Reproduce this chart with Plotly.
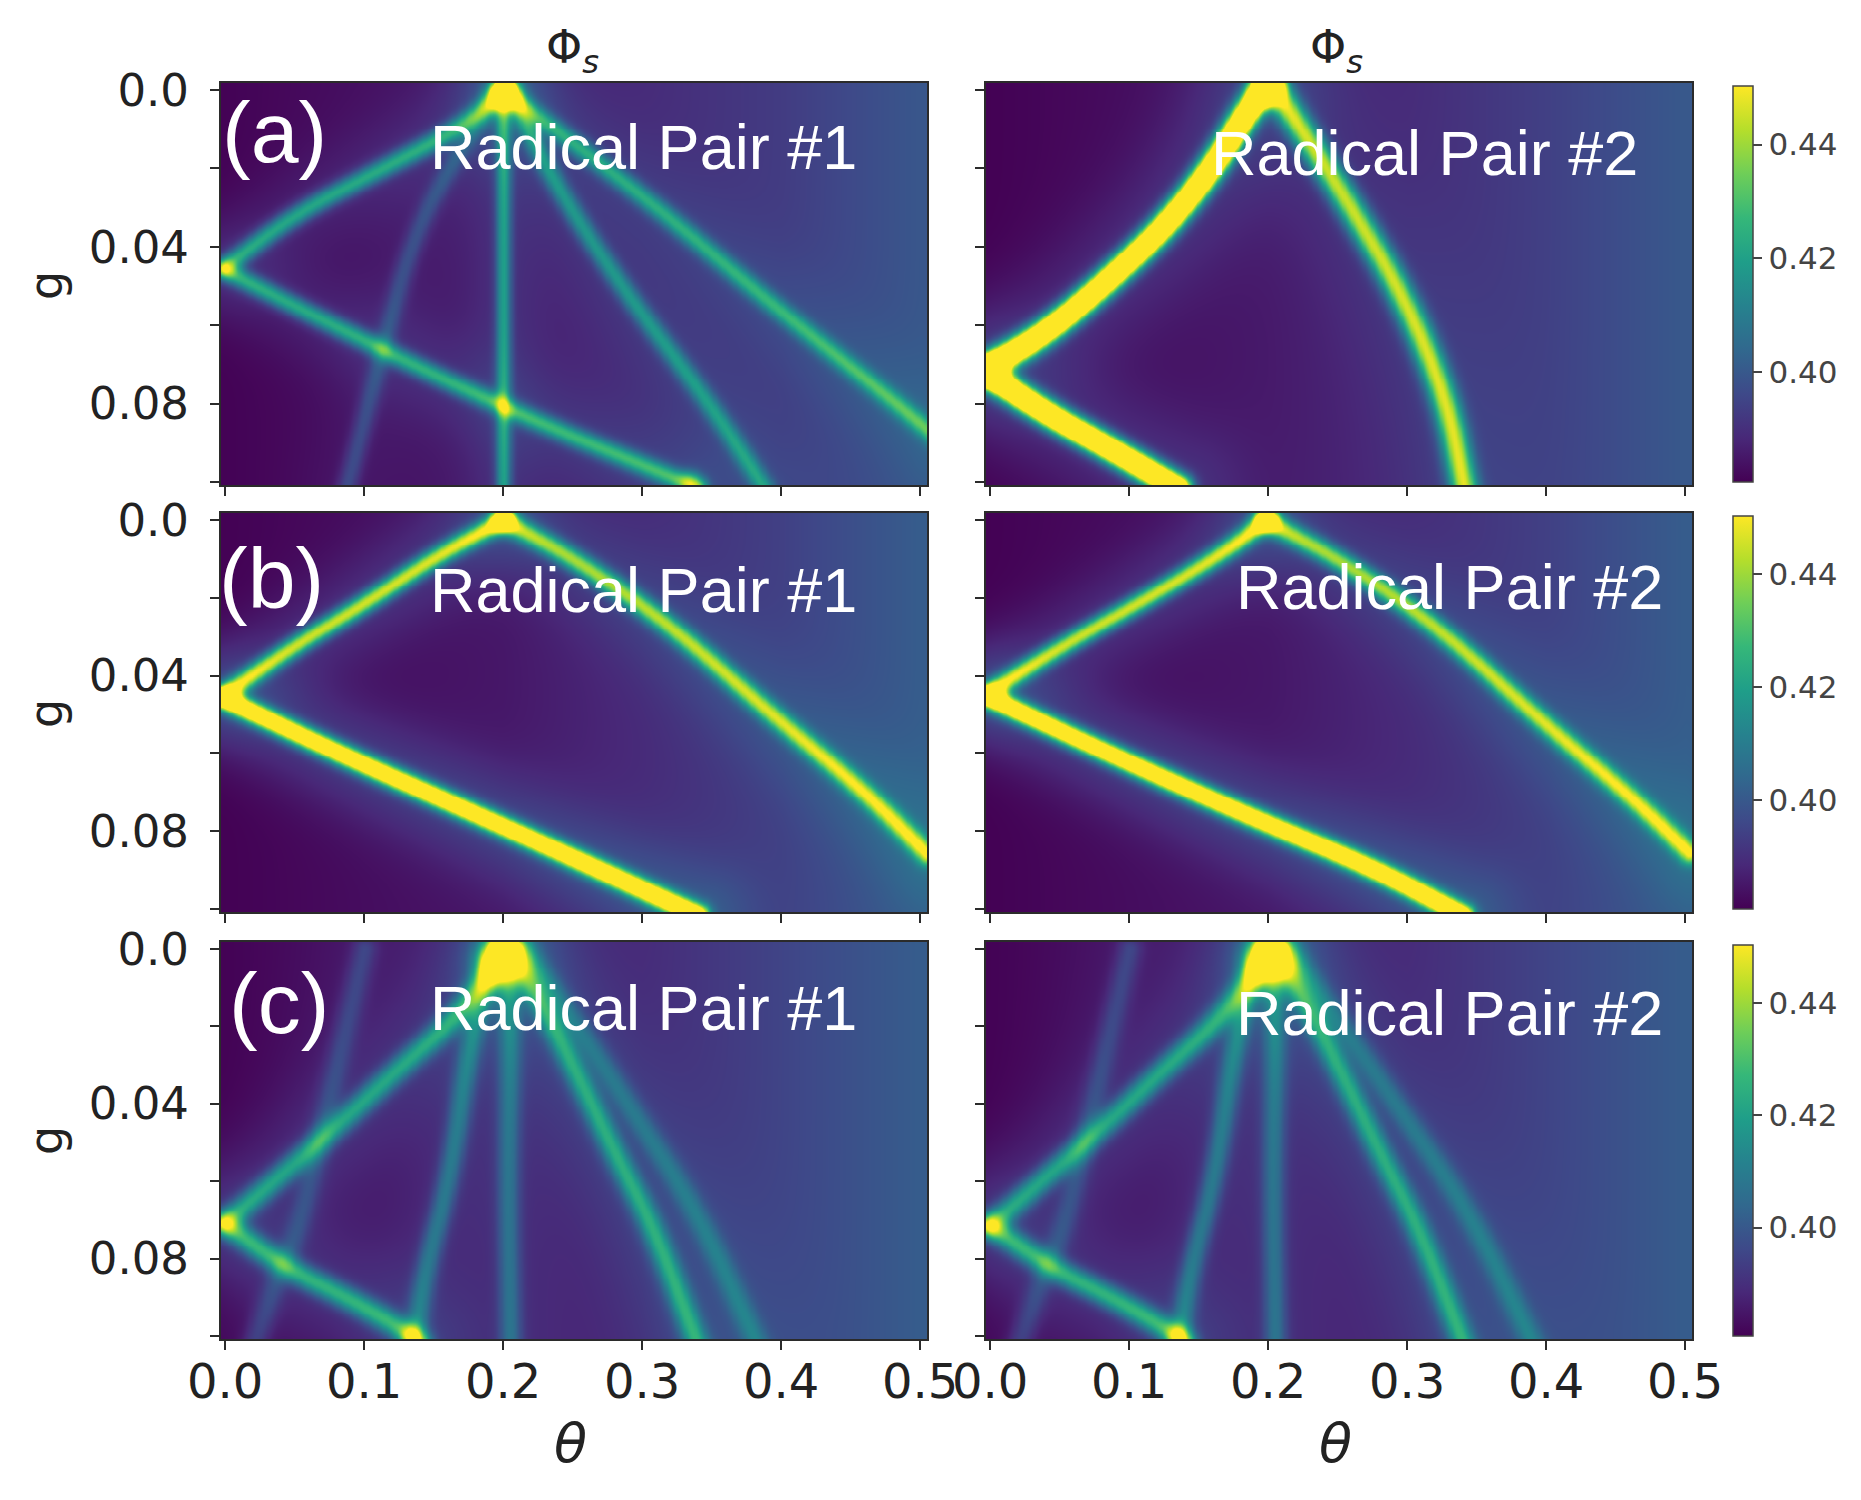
import numpy as np
import plotly.graph_objects as go

# axis ticks / colour range
THETA_TICKS = [0.0, 0.1, 0.2, 0.3, 0.4, 0.5]
THETA_TICK_TEXT = ["0.0", "0.1", "0.2", "0.3", "0.4", "0.5"]
G_TICKS = [0.0, 0.04, 0.08]
G_TICK_TEXT = ["0.0", "0.04", "0.08"]
G_MINOR_TICKS = [0.02, 0.06, 0.10]
CBAR_TICKS = [0.40, 0.42, 0.44]
CBAR_TICK_TEXT = ["0.40", "0.42", "0.44"]
PHI_MIN, PHI_MAX = 0.3807, 0.4503

ROW_LABELS = ["(a)", "(b)", "(c)"]
PAIR_LABELS = ["Radical Pair #1", "Radical Pair #2"]

# background Phi_S read along theta (at 0, 0.1, ... 0.5)
BG_THETA = [0.0, 0.1, 0.2, 0.3, 0.4, 0.5]
bg_a1 = [0.3810, 0.3835, 0.3860, 0.3890, 0.3930, 0.3995]
bg_a2 = [0.3808, 0.3830, 0.3855, 0.3890, 0.3940, 0.4000]
bg_b1 = [0.3808, 0.3830, 0.3850, 0.3890, 0.3940, 0.4010]
bg_b2 = [0.3808, 0.3830, 0.3850, 0.3890, 0.3940, 0.4010]
bg_c1 = [0.3810, 0.3840, 0.3860, 0.3890, 0.3950, 0.4010]
bg_c2 = [0.3810, 0.3840, 0.3860, 0.3890, 0.3950, 0.4010]

# resonance ridges: (theta points, g points, peak height over background, width px)
ridges_a1 = [
    ([0.0, 0.049, 0.113, 0.169, 0.2], [0.045, 0.0318, 0.0199, 0.0096, 0.0], 0.035, 7.0),
    ([0.2, 0.306, 0.391, 0.476, 0.51], [0.0, 0.0284, 0.054, 0.078, 0.088], 0.031, 7.0),
    ([0.0, 0.092, 0.2, 0.34], [0.046, 0.0626, 0.081, 0.1015], 0.036, 7.0),
    ([0.2, 0.2], [0.0, 0.102], 0.030, 5.5),
    ([0.2, 0.169, 0.135, 0.113, 0.0876], [0.0, 0.0147, 0.037, 0.066, 0.101], 0.012, 7.0),
    ([0.205, 0.233, 0.284, 0.348, 0.387], [0.0, 0.0216, 0.0498, 0.0797, 0.101], 0.026, 7.0),
]
spots_a1 = [(0.2, 0.001, 0.05, 10.0), (0.335, 0.1, 0.02, 8.0)]

ridges_a2 = [
    ([0.0, 0.041, 0.084, 0.127, 0.161, 0.187, 0.2],
     [0.0702, 0.0616, 0.0487, 0.0342, 0.019, 0.004, -0.002], 0.11, 9.0),
    ([0.0, 0.041, 0.084, 0.135], [0.073, 0.0826, 0.091, 0.1015], 0.11, 9.0),
    ([0.2, 0.213, 0.255, 0.298, 0.328, 0.341],
     [-0.002, 0.004, 0.0273, 0.053, 0.0788, 0.1015], 0.054, 9.5),
]
spots_a2 = [(0.2, 0.0, 0.05, 9.0), (0.0, 0.0715, 0.04, 10.0)]

ridges_b1 = [
    ([0.0, 0.048, 0.1, 0.151, 0.2], [0.0446, 0.0326, 0.0215, 0.0094, 0.0], 0.056, 7.0),
    ([0.2, 0.253, 0.322, 0.39, 0.459, 0.505],
     [0.0, 0.0103, 0.0275, 0.049, 0.0695, 0.0858], 0.048, 7.5),
    ([0.0, 0.082, 0.185, 0.27, 0.34], [0.046, 0.060, 0.0763, 0.090, 0.1015], 0.085, 7.5),
]
spots_b1 = [(0.2, 0.0, 0.03, 8.0)]

ridges_b2 = [
    ([0.0, 0.053, 0.121, 0.172, 0.198], [0.044, 0.032, 0.0184, 0.0073, 0.0], 0.056, 7.0),
    ([0.198, 0.258, 0.326, 0.394, 0.462, 0.503],
     [0.0, 0.0115, 0.0286, 0.0509, 0.0714, 0.0855], 0.048, 7.5),
    ([0.0, 0.087, 0.189, 0.275, 0.34], [0.0457, 0.0603, 0.0765, 0.0893, 0.1015], 0.085, 7.5),
]
spots_b2 = [(0.2, 0.0, 0.03, 8.0)]

ridges_c1 = [
    ([0.0, 0.042, 0.085, 0.124, 0.162, 0.186, 0.2],
     [0.0706, 0.0577, 0.0441, 0.031, 0.019, 0.008, 0.0], 0.032, 8.5),
    ([0.0, 0.042, 0.09, 0.131, 0.14], [0.071, 0.082, 0.0905, 0.099, 0.102], 0.036, 8.5),
    ([0.195, 0.176, 0.162, 0.143, 0.136], [0.0, 0.023, 0.058, 0.084, 0.1015], 0.020, 8.0),
    ([0.203, 0.205, 0.203, 0.205], [0.0, 0.023, 0.06, 0.1015], 0.018, 8.0),
    ([0.205, 0.229, 0.258, 0.282, 0.308, 0.339],
     [0.0, 0.015, 0.036, 0.054, 0.072, 0.1015], 0.030, 8.5),
    ([0.215, 0.25, 0.286, 0.34, 0.382], [0.0, 0.018, 0.038, 0.068, 0.1015], 0.015, 8.5),
    ([0.1, 0.073, 0.054, 0.04, 0.021], [0.0, 0.041, 0.071, 0.082, 0.1015], 0.010, 8.5),
]
spots_c1 = [(0.198, 0.003, 0.07, 15.0), (0.134, 0.1, 0.02, 8.0)]

ridges_c2 = [
    ([0.0, 0.042, 0.085, 0.124, 0.162, 0.186, 0.2],
     [0.0714, 0.0582, 0.0446, 0.0312, 0.019, 0.008, 0.0], 0.032, 8.5),
    ([0.0, 0.042, 0.09, 0.131, 0.14], [0.0714, 0.082, 0.0905, 0.099, 0.102], 0.036, 8.5),
    ([0.195, 0.176, 0.162, 0.143, 0.136], [0.0, 0.023, 0.058, 0.084, 0.1015], 0.020, 8.0),
    ([0.203, 0.205, 0.203, 0.205], [0.0, 0.023, 0.06, 0.1015], 0.018, 8.0),
    ([0.205, 0.229, 0.258, 0.282, 0.308, 0.340],
     [0.0, 0.015, 0.036, 0.054, 0.072, 0.1015], 0.030, 8.5),
    ([0.215, 0.25, 0.288, 0.345, 0.39], [0.0, 0.018, 0.038, 0.068, 0.1015], 0.015, 8.5),
    ([0.1, 0.073, 0.054, 0.04, 0.021], [0.0, 0.041, 0.071, 0.082, 0.1015], 0.010, 8.5),
]
spots_c2 = [(0.2, 0.003, 0.07, 15.0), (0.135, 0.1, 0.02, 8.0)]

# pixels per data unit inside one panel, so ridge widths come out in screen px
PX_THETA = 1390.0
PX_G = 3900.0
HALO = [0.12, 0.06, 0.12, 0.12, 0.15, 0.15]

theta = np.linspace(-0.005, 0.507, 320)
g = np.linspace(-0.003, 0.102, 210)
TH, GG = np.meshgrid(theta, g)


def rounded(th_pts, g_pts, passes=2):
    # corner cutting so the ridges bend smoothly instead of kinking
    p = np.column_stack([np.asarray(th_pts) * PX_THETA, np.asarray(g_pts) * PX_G])
    for _ in range(passes):
        if len(p) < 3:
            break
        q = [p[0]]
        for a, b in zip(p[:-1], p[1:]):
            q += [0.75 * a + 0.25 * b, 0.25 * a + 0.75 * b]
        q.append(p[-1])
        p = np.array(q)
    return p


def dist_to_path(th_pts, g_pts):
    X, Y = TH * PX_THETA, GG * PX_G
    p = rounded(th_pts, g_pts)
    d = np.full(X.shape, np.inf)
    for (ax, ay), (bx, by) in zip(p[:-1], p[1:]):
        vx, vy = bx - ax, by - ay
        L = vx * vx + vy * vy
        if L == 0:
            continue
        t = np.clip(((X - ax) * vx + (Y - ay) * vy) / L, 0, 1)
        d = np.minimum(d, np.hypot(X - ax - t * vx, Y - ay - t * vy))
    return d


def phi_map(bg, ridges, spots, halo):
    z = np.interp(TH, BG_THETA, bg)
    for th_pts, g_pts, amp, w in ridges:
        d = dist_to_path(th_pts, g_pts)
        z = z + amp * (np.exp(-0.5 * (d / w) ** 2) + halo * np.exp(-0.5 * (d / (5 * w)) ** 2))
    for t0, g0, amp, w in spots:
        d = np.hypot((TH - t0) * PX_THETA, (GG - g0) * PX_G)
        z = z + amp * np.exp(-0.5 * (d / w) ** 2)
    return z


panels = [
    (bg_a1, ridges_a1, spots_a1),
    (bg_a2, ridges_a2, spots_a2),
    (bg_b1, ridges_b1, spots_b1),
    (bg_b2, ridges_b2, spots_b2),
    (bg_c1, ridges_c1, spots_c1),
    (bg_c2, ridges_c2, spots_c2),
]

# the page body keeps an 8px margin, so the figure is laid out 8px smaller
OFF = 8
W, H = 1861 - OFF, 1500 - OFF


def fx(x):
    return (x - OFF) / W


def fy(y):
    return 1 - (y - OFF) / H


col_dom = [[fx(221), fx(927)], [fx(986), fx(1692)]]
row_dom = [[fy(485), fy(83)], [fy(912), fy(513)], [fy(1339), fy(942)]]

FONT = "DejaVu Sans, Liberation Sans, sans-serif"
AX_COL = "#2b2b2b"

fig = go.Figure()
layout = {}
for k, (bg, ridges, spots) in enumerate(panels):
    row, col = divmod(k, 2)
    n = k + 1
    ca = "coloraxis" if row == 0 else f"coloraxis{row + 1}"
    fig.add_trace(go.Heatmap(
        x=theta, y=g, z=phi_map(bg, ridges, spots, HALO[k]),
        coloraxis=ca, zsmooth="best", hoverinfo="skip",
        xaxis=f"x{n}", yaxis=f"y{n}",
    ))
    xk = "xaxis" if n == 1 else f"xaxis{n}"
    yk = "yaxis" if n == 1 else f"yaxis{n}"
    common = dict(showgrid=False, zeroline=False, showline=True, mirror=True,
                  linecolor=AX_COL, linewidth=2, ticks="outside", ticklen=9,
                  tickwidth=2, tickcolor=AX_COL, automargin=False)
    layout[xk] = dict(
        common, domain=col_dom[col], anchor=f"y{n}", range=[-0.003, 0.505],
        tickmode="array", tickvals=THETA_TICKS, ticktext=THETA_TICK_TEXT,
        showticklabels=(row == 2), ticklabelstandoff=-10,
        tickfont=dict(family=FONT, size=48, color="#222"),
    )
    layout[yk] = dict(
        common, domain=row_dom[row], anchor=f"x{n}", range=[0.1008, -0.0018],
        tickmode="array", tickvals=G_TICKS, ticktext=G_TICK_TEXT,
        showticklabels=(col == 0), ticklabelstandoff=12,
        minor=dict(tickmode="array", tickvals=G_MINOR_TICKS, ticks="outside",
                   ticklen=9, tickwidth=2, tickcolor=AX_COL, showgrid=False),
        tickfont=dict(family=FONT, size=45, color="#222"),
    )

for r in range(3):
    key = "coloraxis" if r == 0 else f"coloraxis{r + 1}"
    lo, hi = row_dom[r]
    layout[key] = dict(
        colorscale="Viridis", cmin=PHI_MIN, cmax=PHI_MAX,
        colorbar=dict(
            x=fx(1733), xanchor="left", xpad=0, ypad=0,
            y=(lo + hi) / 2, yanchor="middle", len=hi - lo - 0.004, lenmode="fraction",
            thickness=20, outlinewidth=1.5, outlinecolor="#444",
            tickvals=CBAR_TICKS, ticktext=CBAR_TICK_TEXT,
            ticks="outside", ticklen=9, tickcolor="#444", tickwidth=2,
            tickfont=dict(family=FONT, size=31, color="#444"),
        ),
    )


def label(text, xc, yc, size, family=FONT, color="#222", angle=0):
    return dict(text=text, x=fx(xc), y=fy(yc), xref="paper", yref="paper",
                xanchor="center", yanchor="middle", showarrow=False, textangle=angle,
                font=dict(family=family, size=size, color=color))


annotations = []
for xc in [572, 1336]:
    annotations.append(label("Φ<sub><i>s</i></sub>", xc, 50, 46))
for yc in [286, 714, 1141]:
    annotations.append(label("g", 46, yc, 46, angle=-90))
for xc in [570, 1335]:
    annotations.append(label("<i>θ</i>", xc, 1443, 54))
for lab, (xc, yc) in zip(ROW_LABELS, [(274, 132), (271, 578), (279, 1003)]):
    annotations.append(label(lab, xc, yc, 86, "Liberation Sans, Arial", "white"))
pair_pos = [(643, 147), (1424, 153), (643, 590), (1449, 587), (643, 1008), (1449, 1013)]
for k, (xc, yc) in enumerate(pair_pos):
    annotations.append(label(PAIR_LABELS[k % 2], xc, yc, 63, "Liberation Sans, Arial", "white"))

fig.update_layout(
    width=W, height=H,
    margin=dict(l=0, r=0, t=0, b=0, pad=0, autoexpand=False),
    paper_bgcolor="white", plot_bgcolor="white",
    showlegend=False,
    annotations=annotations,
    **layout,
)

fig.write_html("out.html")
